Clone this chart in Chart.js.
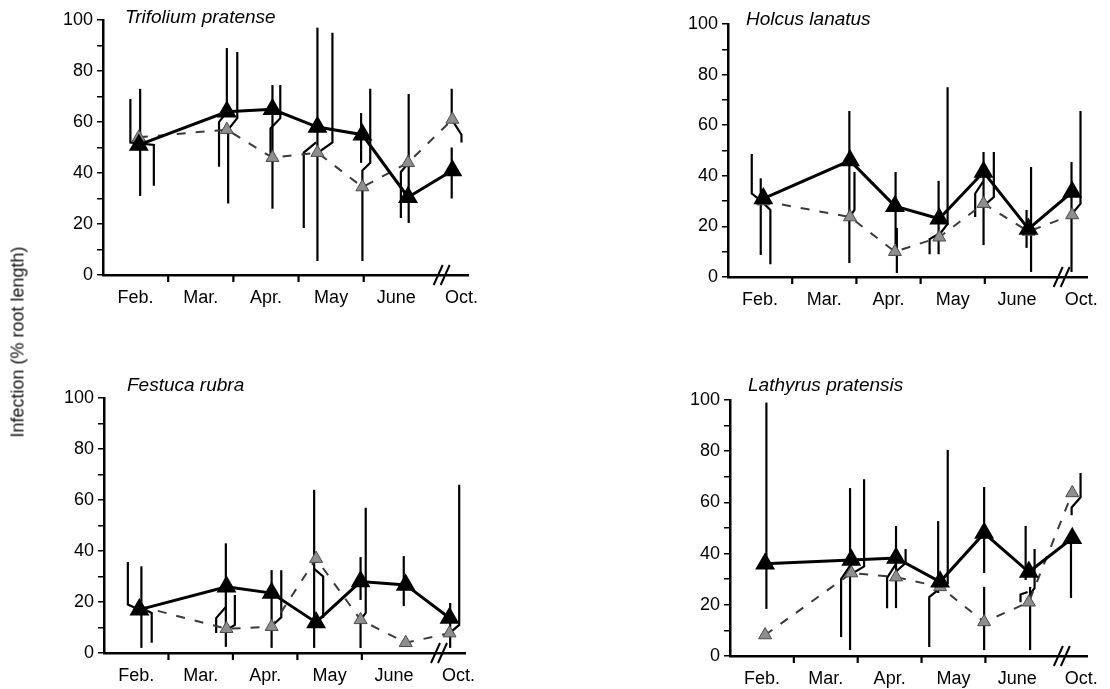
<!DOCTYPE html>
<html>
<head>
<meta charset="utf-8">
<script src="https://cdn.jsdelivr.net/npm/chart.js@4.4.1/dist/chart.umd.min.js"></script>
<style>
  body { margin: 0; background: #fff; width: 1110px; height: 689px; position: relative; overflow: hidden;
         font-family: "Liberation Sans", Arial, sans-serif; }
  canvas { position: absolute; }
  #ytitle { position: absolute; left: 18px; top: 342px; transform: translate(-50%, -50%) rotate(-90deg);
            font-size: 18px; white-space: nowrap; color: #111; }
</style>
</head>
<body>
<canvas id="c1" width="555" height="345" style="left:0;top:0"></canvas>
<canvas id="c2" width="555" height="345" style="left:555px;top:0"></canvas>
<canvas id="c3" width="555" height="345" style="left:0;top:345px"></canvas>
<canvas id="c4" width="555" height="345" style="left:555px;top:345px"></canvas>
<div id="ytitle">Infection (% root length)</div>
<script>
// sampling dates, in months counted from 1 Feb (Oct sits past the axis break)
const sampleDates = [0.55, 1.9, 2.6, 3.29, 3.98, 4.68, 5.36];
const monthLabels = ["Feb.", "Mar.", "Apr.", "May", "June", "Oct."];
const monthCentres = [0.5, 1.5, 2.5, 3.5, 4.5, 5.5];
const monthBounds = [1, 2, 3, 4];
const axisBreak = 5.15;

// % root length infected: solid line / dashed line
const trifoliumSolid = [51, 64, 65, 58, 55, 30.5, 41];
const trifoliumDashed = [54, 57, 46, 48, 34.5, 44, 61];
const holcusSolid = [31, 46, 28, 23, 41.5, 19, 33.6];
const holcusDashed = [30, 23.7, 10, 15.7, 29, 18, 24.5];
const festucaSolid = [17, 26, 23.5, 12, 28, 26.7, 13.7];
const festucaDashed = [18.4, 9.5, 10.3, 37, 13, 4, 7.8];
const lathyrusSolid = [36, 37.5, 38.3, 29, 48, 32.8, 46];
const lathyrusDashed = [8.2, 32.4, 30.8, 27, 13.3, 21, 63.7];

// error bars as polylines [month, %] (the offset ones have little hooks)
const trifoliumBars = [
  [[0.57, 31], [0.57, 73]],
  [[0.42, 69], [0.42, 52], [0.78, 51], [0.78, 35]],
  [[1.9, 89], [1.9, 64]],
  [[1.9, 64], [1.78, 60], [1.78, 42.5]],
  [[2.06, 87.5], [2.06, 61.5], [1.92, 57], [1.92, 28]],
  [[2.6, 74.5], [2.6, 26]],
  [[2.72, 74.5], [2.72, 61.5], [2.57, 57.5], [2.57, 47]],
  [[3.29, 97], [3.29, 5.5]],
  [[3.52, 95], [3.52, 52], [3.3, 48]],
  [[3.27, 52], [3.08, 48], [3.08, 18.4]],
  [[3.96, 63.5], [3.96, 44]],
  [[4.1, 73], [4.1, 44], [3.98, 41], [3.98, 5.5]],
  [[4.69, 71], [4.69, 20.4]],
  [[4.69, 44], [4.57, 40.4], [4.57, 22.4]],
  [[5.35, 73], [5.35, 61], [5.5, 55], [5.5, 52]],
  [[5.35, 50], [5.35, 30]]
];
const holcusBars = [
  [[0.37, 48.6], [0.37, 33], [0.52, 30]],
  [[0.51, 39], [0.51, 8.7]],
  [[0.52, 30], [0.66, 26.5], [0.66, 5]],
  [[1.89, 65.6], [1.89, 5.5]],
  [[1.97, 41.5], [1.97, 26.5], [1.9, 24]],
  [[2.61, 41.5], [2.61, 13]],
  [[2.63, 19.4], [2.63, 1.6]],
  [[3.28, 38], [3.28, 9]],
  [[3.42, 75], [3.42, 21], [3.3, 17]],
  [[3.28, 17], [3.14, 15], [3.14, 9]],
  [[3.98, 49.4], [3.98, 12.6]],
  [[4.14, 49.4], [4.14, 31.6], [3.98, 28]],
  [[3.98, 38], [3.85, 33], [3.85, 23.7]],
  [[4.72, 43.5], [4.72, 2]],
  [[4.65, 26.5], [4.65, 11.5]],
  [[5.35, 45.5], [5.35, 2]],
  [[5.49, 65.6], [5.49, 29], [5.36, 25]]
];
const festucaBars = [
  [[0.37, 35.7], [0.37, 19], [0.55, 17]],
  [[0.58, 34], [0.58, 2]],
  [[0.55, 18], [0.74, 15.7], [0.74, 4]],
  [[1.89, 43], [1.89, 2.4]],
  [[1.89, 18], [1.74, 13.7], [1.74, 7.8]],
  [[2.03, 22.7], [2.03, 11], [1.9, 9]],
  [[2.6, 32.5], [2.6, 2]],
  [[2.75, 32.5], [2.75, 14], [2.6, 10.5]],
  [[3.26, 64], [3.26, 2]],
  [[3.26, 33], [3.4, 30], [3.4, 13.7]],
  [[3.98, 37.6], [3.98, 20.8]],
  [[4.06, 57], [4.06, 15.7], [3.98, 13], [3.98, 2]],
  [[4.65, 38], [4.65, 18.4]],
  [[5.37, 19.6], [5.37, 2]],
  [[5.51, 66], [5.51, 11], [5.37, 8]]
];
const lathyrusBars = [
  [[0.57, 99], [0.57, 18.4]],
  [[1.88, 65.6], [1.88, 2.3]],
  [[2.1, 69], [2.1, 35], [1.9, 32]],
  [[1.9, 36], [1.74, 30], [1.74, 7.4]],
  [[2.6, 50.8], [2.6, 18.7]],
  [[2.75, 41.8], [2.75, 36.3], [2.6, 33]],
  [[2.6, 36], [2.46, 30.5], [2.46, 18.7]],
  [[3.26, 52.7], [3.26, 24.6]],
  [[3.41, 80.5], [3.41, 28]],
  [[3.27, 26], [3.12, 23], [3.12, 3.5]],
  [[3.98, 66], [3.98, 32.4]],
  [[3.98, 27], [3.98, 2.3]],
  [[4.63, 50.8], [4.63, 29.7]],
  [[4.77, 41.8], [4.77, 26.6], [4.7, 24]],
  [[4.7, 27], [4.7, 2.3]],
  [[4.66, 25], [4.55, 24], [4.55, 21]],
  [[5.34, 47], [5.34, 22.7]],
  [[5.49, 71.5], [5.49, 62], [5.35, 58], [5.35, 55]]
];

const panels = [
  { id: "c1", title: "Trifolium pratense", solid: trifoliumSolid, dashed: trifoliumDashed, bars: trifoliumBars,
    area: { left: 103, top: 20, right: 468, bottom: 275 }, titlePos: { x: 125, y: 18 } },
  { id: "c2", title: "Holcus lanatus", solid: holcusSolid, dashed: holcusDashed, bars: holcusBars,
    area: { left: 173, top: 24, right: 535, bottom: 277 }, titlePos: { x: 191, y: 20 } },
  { id: "c3", title: "Festuca rubra", solid: festucaSolid, dashed: festucaDashed, bars: festucaBars,
    area: { left: 104, top: 53, right: 465, bottom: 308 }, titlePos: { x: 127, y: 41 } },
  { id: "c4", title: "Lathyrus pratensis", solid: lathyrusSolid, dashed: lathyrusDashed, bars: lathyrusBars,
    area: { left: 175, top: 55, right: 538, bottom: 311 }, titlePos: { x: 193, y: 41 } }
];

// error bars under the markers, then month ticks, axis break and species name
const decorations = {
  id: "decorations",
  beforeDatasetsDraw(chart, args, opts) {
    const { ctx, scales: { x, y } } = chart;
    ctx.save();
    ctx.strokeStyle = "#000";
    ctx.lineWidth = 2.2;
    opts.bars.forEach(line => {
      ctx.beginPath();
      line.forEach(([m, v], i) => {
        const px = x.getPixelForValue(m), py = y.getPixelForValue(v);
        if (i === 0) ctx.moveTo(px, py); else ctx.lineTo(px, py);
      });
      ctx.stroke();
    });
    ctx.restore();
  },
  afterDraw(chart, args, opts) {
    const { ctx, chartArea, scales: { x } } = chart;
    ctx.save();
    ctx.strokeStyle = "#000";
    ctx.lineWidth = 2.2;
    monthBounds.forEach(b => {
      const px = x.getPixelForValue(b);
      ctx.beginPath();
      ctx.moveTo(px, chartArea.bottom);
      ctx.lineTo(px, chartArea.bottom + 7);
      ctx.stroke();
    });
    // the // break
    const bx = x.getPixelForValue(axisBreak);
    ctx.lineWidth = 2;
    [0, 7].forEach(d => {
      ctx.beginPath();
      ctx.moveTo(bx + d - 5, chartArea.bottom + 10);
      ctx.lineTo(bx + d + 4, chartArea.bottom - 10);
      ctx.stroke();
    });
    ctx.fillStyle = "#000";
    ctx.font = "italic 19px 'Liberation Sans', Arial, sans-serif";
    ctx.textBaseline = "middle";
    ctx.fillText(opts.title, opts.titlePos.x, opts.titlePos.y);
    ctx.restore();
  }
};

panels.forEach(p => {
  const canvas = document.getElementById(p.id);
  const W = canvas.width, H = canvas.height;
  new Chart(canvas, {
    type: "line",
    data: {
      datasets: [
        {
          label: "solid",
          data: sampleDates.map((m, i) => ({ x: m, y: p.solid[i] })),
          borderColor: "#000",
          borderWidth: 3,
          pointStyle: "triangle",
          pointRadius: 8.5,
          pointBackgroundColor: "#000",
          pointBorderColor: "#000",
          tension: 0,
          order: 1
        },
        {
          label: "dashed",
          data: sampleDates.map((m, i) => ({ x: m, y: p.dashed[i] })),
          borderColor: "#3a3a3a",
          borderWidth: 2,
          borderDash: [9, 10],
          pointStyle: "triangle",
          pointRadius: 7.5,
          pointBackgroundColor: "#8e8e8e",
          pointBorderColor: "#4a4a4a",
          pointBorderWidth: 1,
          tension: 0,
          order: 2
        }
      ]
    },
    options: {
      responsive: false,
      animation: false,
      layout: { padding: { left: 0, top: p.area.top, right: W - p.area.right, bottom: 0 } },
      plugins: {
        legend: { display: false },
        tooltip: { enabled: false },
        decorations: { bars: p.bars, title: p.title, titlePos: p.titlePos }
      },
      scales: {
        x: {
          type: "linear",
          min: 0,
          max: 5.6,
          afterBuildTicks: s => { s.ticks = monthCentres.map(v => ({ value: v })); },
          afterFit: s => { s.height = H - p.area.bottom; },
          ticks: {
            autoSkip: false,
            maxRotation: 0,
            padding: 12,
            color: "#000",
            font: { family: "'Liberation Sans', Arial, sans-serif", size: 18 },
            callback: (v, i) => monthLabels[i]
          },
          grid: { display: false, drawTicks: false },
          border: { display: true, color: "#000", width: 2.5 }
        },
        y: {
          min: 0,
          max: 100,
          afterFit: s => { s.width = p.area.left; },
          ticks: {
            stepSize: 10,
            padding: 4,
            color: "#000",
            font: { family: "'Liberation Sans', Arial, sans-serif", size: 18 },
            callback: v => (v % 20 === 0 ? v : "")
          },
          grid: { display: true, drawOnChartArea: false, drawTicks: true, tickLength: 6, color: "#000", lineWidth: 1.5 },
          border: { display: true, color: "#000", width: 2.5 }
        }
      }
    },
    plugins: [decorations]
  });
});
</script>
</body>
</html>
